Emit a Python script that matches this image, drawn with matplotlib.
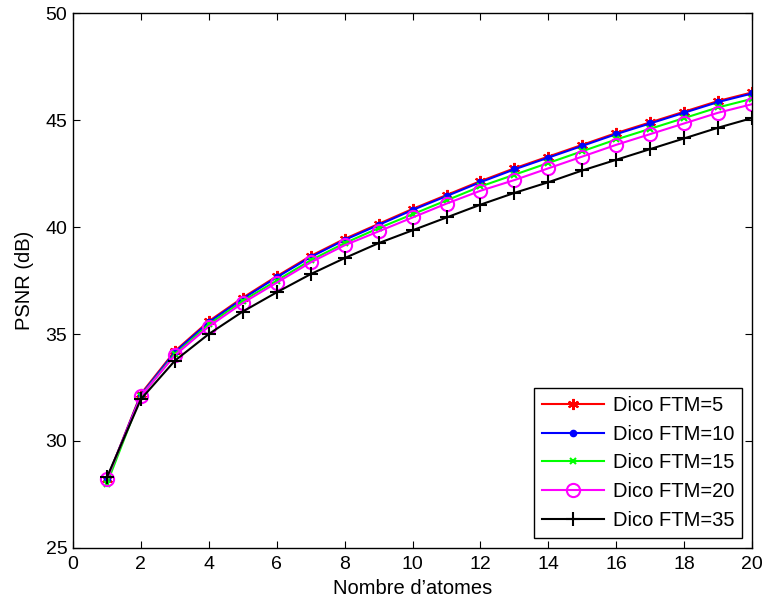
import numpy as np
import matplotlib
matplotlib.use('Agg')
import matplotlib.pyplot as plt

plt.rcParams['font.family'] = ['Liberation Sans', 'DejaVu Sans']

# nombre d'atomes
atoms = list(range(1, 21))

# PSNR (dB) pour chaque dictionnaire
ftm5 = [28.2, 32.2, 34.2, 35.6, 36.7, 37.7, 38.65, 39.45, 40.15, 40.85,
        41.5, 42.15, 42.75, 43.3, 43.85, 44.4, 44.9, 45.4, 45.9, 46.3]
ftm10 = [28.2, 32.15, 34.15, 35.55, 36.65, 37.65, 38.6, 39.4, 40.1, 40.8,
         41.45, 42.1, 42.7, 43.25, 43.8, 44.35, 44.85, 45.35, 45.85, 46.25]
ftm15 = [28.0, 32.1, 34.05, 35.45, 36.55, 37.5, 38.45, 39.25, 39.95, 40.6,
         41.25, 41.9, 42.45, 43.0, 43.55, 44.1, 44.6, 45.1, 45.6, 46.0]
ftm20 = [28.2, 32.1, 34.0, 35.35, 36.45, 37.4, 38.35, 39.15, 39.8, 40.45,
         41.1, 41.7, 42.2, 42.75, 43.3, 43.85, 44.35, 44.85, 45.35, 45.75]
ftm35 = [28.3, 31.95, 33.75, 35.0, 36.05, 36.95, 37.8, 38.55, 39.25, 39.85,
         40.45, 41.05, 41.6, 42.1, 42.65, 43.15, 43.65, 44.15, 44.65, 45.1]

fig = plt.figure(figsize=(7.64, 6.04), dpi=100)
ax = fig.add_axes([0.0955, 0.093, 0.889, 0.885])

ax.plot(atoms, ftm5, color='r', marker=(6, 2, 0), lw=1.5, ms=8, mew=1.5, label='Dico FTM=5')
ax.plot(atoms, ftm10, color='b', marker='.', lw=1.5, ms=9, label='Dico FTM=10')
ax.plot(atoms, ftm15, color='#00ff00', marker='x', lw=1.5, ms=4.5, mew=1.5, label='Dico FTM=15')
ax.plot(atoms, ftm20, color='#ff00ff', marker='o', lw=1.5, ms=9.5, mfc='none', mew=1.5, label='Dico FTM=20')
ax.plot(atoms, ftm35, color='k', marker='+', lw=1.5, ms=10, mew=1.5, label='Dico FTM=35')

ax.set_xlim(0, 20)
ax.set_ylim(25, 50)
ax.set_xticks(range(0, 21, 2))
ax.set_yticks(range(25, 51, 5))
ax.tick_params(direction='in', top=True, right=True, labelsize=14, length=5, pad=4)
ax.tick_params(axis='x', pad=6)
for s in ax.spines.values():
    s.set_linewidth(1)

ax.set_xlabel("Nombre d’atomes", fontsize=14.5, labelpad=4)
ax.set_ylabel('PSNR (dB)', fontsize=14.5, labelpad=8)

leg = ax.legend(loc='lower right', fontsize=14.5, fancybox=False, edgecolor='k',
                framealpha=1, handlelength=3.1, handletextpad=0.4,
                labelspacing=0.48, borderaxespad=0.5, borderpad=0.4)
leg.get_frame().set_linewidth(1)

plt.savefig('out.png', dpi=100)
